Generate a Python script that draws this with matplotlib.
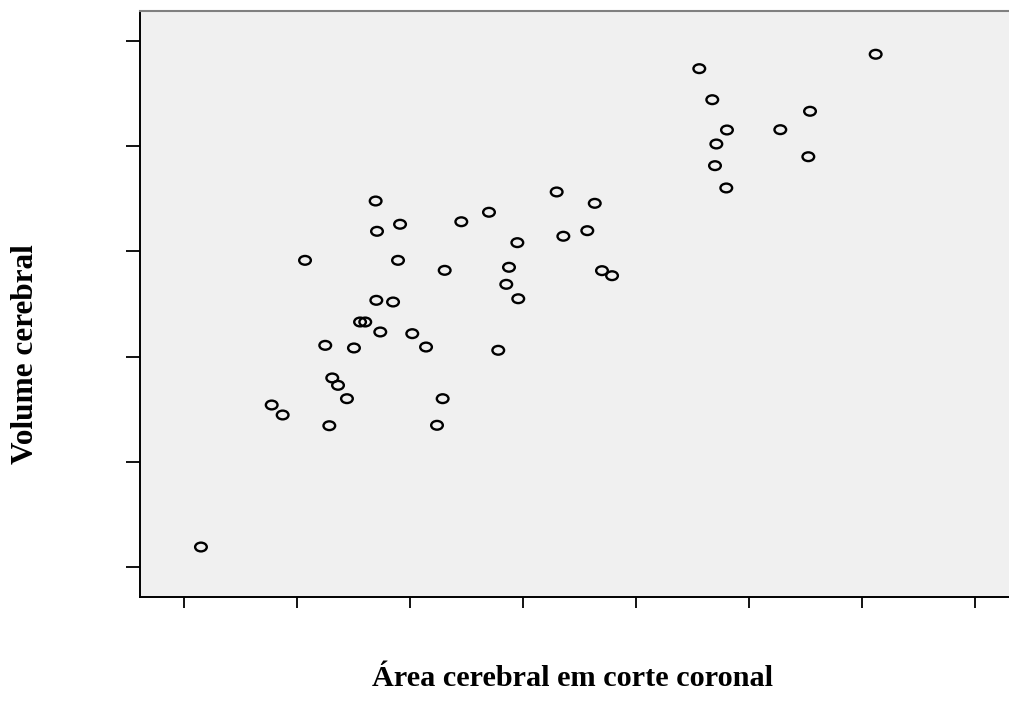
import numpy as np
import matplotlib
matplotlib.use("Agg")
import matplotlib.pyplot as plt
from matplotlib.path import Path

# Data (arbitrary units; tick labels are not shown in the reference)
area = [6.121, 4.560, 4.675, 5.540, 4.805, 5.277, 4.711, 5.525, 4.699, 4.799,
        3.298, 3.635, 2.699, 2.454, 3.569, 3.357, 2.950, 2.307, 2.876, 3.699,
        3.788, 2.852, 2.958,
        1.696, 1.912, 1.708, 1.071, 1.894, 1.702, 1.850,
        1.558, 1.604, 1.737, 2.020, 1.250, 1.504, 2.142, 2.781, 1.312, 1.363,
        1.442, 2.289, 0.776, 0.873, 1.286, 2.239,
        0.150]
volume = [4.874, 4.737, 4.442, 4.332, 4.154, 4.157, 4.021, 3.900, 3.815, 3.603,
          3.565, 3.457, 3.372, 3.282, 3.197, 3.144, 3.083, 2.820, 2.849, 2.817,
          2.769, 2.687, 2.550,
          3.479, 3.258, 3.191, 2.915, 2.915, 2.535, 2.519,
          2.329, 2.329, 2.234, 2.218, 2.107, 2.082, 2.091, 2.060, 1.797, 1.727,
          1.600, 1.600, 1.540, 1.445, 1.343, 1.347,
          0.190]
x_ticks = [0, 1, 2, 3, 4, 5, 6, 7]
y_ticks = [0, 1, 2, 3, 4, 5]
x_label = "Área cerebral em corte coronal"
y_label = "Volume cerebral"

W, H = 1009, 715
fig = plt.figure(figsize=(W / 100, H / 100), dpi=100)
ax = fig.add_axes([140 / W, 1 - 597 / H, 1 - 140 / W, (597 - 11) / H])
ax.set_facecolor("#f0f0f0")

# elliptical open marker
circ = Path.unit_circle()
ell = Path(circ.vertices * np.array([1.0, 0.75]), circ.codes)

ax.scatter(area, volume, marker=ell, s=8.4 ** 2, facecolors="none",
           edgecolors="black", linewidths=1.7, zorder=3)

ax.set_xlim(-44 / 113, (1009 - 184) / 113)
ax.set_ylim((567 - 597) / 105.2, (567 - 11) / 105.2)
ax.set_xticks(x_ticks)
ax.set_yticks(y_ticks)
ax.set_xticklabels([])
ax.set_yticklabels([])
ax.tick_params(axis="x", direction="out", length=8, width=1.3, color="black")
ax.tick_params(axis="y", direction="out", length=10, width=1.3, color="black")

ax.spines["right"].set_visible(False)
ax.spines["top"].set_color("#808080")
ax.spines["top"].set_linewidth(1.5)
for s in ("left", "bottom"):
    ax.spines[s].set_color("black")
    ax.spines[s].set_linewidth(1.4)

fig.text(573 / W, 1 - 679 / H, x_label, ha="center", va="center",
         fontsize=21.8, fontweight="bold", family="Liberation Serif")
fig.text(26 / W, 1 - 354 / H, y_label, ha="center", va="center", rotation=90,
         fontsize=22.5, fontweight="bold", family="Liberation Serif")

fig.savefig("out.png", dpi=100, facecolor="white")
